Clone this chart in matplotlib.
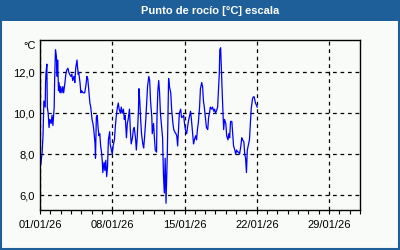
import numpy as np
import matplotlib
matplotlib.use('Agg')
import matplotlib.pyplot as plt
import matplotlib.dates as mdates
from matplotlib.patches import Rectangle
from matplotlib.ticker import FuncFormatter, FixedLocator
import datetime as dt

# hours since 01/01/26 00:00 and dew point in degC
hours = [2, 5, 7, 9, 12, 13, 14, 16, 17, 19, 21, 23, 26, 28, 30, 33, 34, 36, 38, 40,
         41, 43, 44, 47, 48, 51, 53, 55, 58, 60, 62, 65, 67, 69, 72, 74, 76, 79, 81, 83,
         86, 87, 89, 90, 93, 95, 97, 100, 102, 104, 107, 109, 111, 114, 116, 118, 121, 123, 125, 128,
         129, 131, 133, 135, 137, 139, 141, 143, 145, 146, 149, 151, 153, 155, 157, 159, 162, 163, 166, 168,
         170, 173, 175, 177, 180, 182, 184, 187, 189, 191, 194, 196, 198, 201, 203, 205, 208, 210, 212, 215,
         217, 219, 222, 224, 226, 229, 230, 232, 234, 236, 239, 241, 243, 246, 248, 250, 253, 255, 257, 260,
         261, 264, 266, 268, 271, 272, 274, 276, 278, 280, 283, 285, 287, 289, 291, 293, 296, 299, 301, 304,
         306, 309, 311, 313, 316, 318, 320, 322, 324, 327, 329, 331, 334, 336, 338, 341, 343, 345, 348, 350,
         352, 355, 357, 359, 362, 364, 366, 368, 371, 373, 376, 378, 380, 382, 385, 387, 390, 392, 394, 396,
         399, 401, 404, 406, 408, 410, 413, 415, 417, 418, 420, 421, 423, 424, 426, 427, 429, 432, 434, 437,
         439, 441, 443, 446, 448, 450, 453, 455, 457, 460, 462, 464, 467, 469, 471, 474, 476, 478, 480, 482,
         484, 487, 489, 491, 494, 496, 498, 501, 503, 505]
dew_point = [7.5, 8.1, 8.9, 10.6, 10.3, 11.5, 12.0, 12.4, 10.3, 10.0, 9.3, 9.7, 9.5, 9.9, 9.4, 10.3, 11.6, 13.1, 12.8, 11.8,
             12.6, 11.1, 11.5, 11.0, 11.3, 11.0, 11.3, 11.0, 11.5, 11.9, 12.1, 12.2, 12.0, 11.9, 11.8, 11.9, 11.6, 11.8, 11.5, 12.2,
             12.6, 12.3, 11.9, 12.0, 11.5, 11.0, 11.1, 11.0, 11.0, 11.0, 11.4, 11.8, 11.7, 11.0, 10.5, 10.3, 9.7, 9.5, 9.2, 8.5,
             7.8, 9.8, 9.9, 9.3, 8.9, 9.0, 8.4, 8.1, 7.6, 7.1, 7.6, 7.2, 7.7, 6.9, 7.4, 8.7, 9.1, 8.5, 8.2, 8.0,
             8.4, 8.7, 9.3, 9.8, 10.3, 10.5, 10.2, 10.0, 10.3, 10.0, 10.2, 9.7, 9.9, 8.8, 9.5, 9.7, 10.2, 9.2, 8.5, 8.8,
             9.2, 9.3, 8.8, 8.2, 8.8, 10.2, 11.2, 10.6, 9.7, 9.0, 8.5, 8.3, 8.8, 9.7, 10.5, 11.3, 11.8, 11.6, 10.6, 9.8,
             9.0, 9.5, 8.8, 8.2, 8.1, 9.8, 11.1, 11.6, 11.0, 10.0, 9.3, 8.8, 7.0, 6.1, 7.8, 5.6, 8.0, 11.7, 11.3, 11.0,
             10.2, 9.5, 9.2, 9.1, 9.0, 8.9, 8.4, 9.2, 10.0, 10.2, 9.8, 9.8, 9.9, 9.5, 9.2, 9.0, 9.3, 9.6, 9.9, 10.1,
             9.7, 9.0, 8.5, 8.7, 8.9, 8.7, 9.2, 9.5, 10.3, 11.2, 11.5, 11.3, 10.6, 10.3, 9.7, 9.3, 9.2, 9.8, 10.0, 10.3,
             10.2, 10.3, 10.1, 10.2, 10.0, 10.1, 10.3, 11.2, 12.0, 13.1, 13.2, 12.6, 11.5, 10.8, 9.8, 9.2, 9.7, 9.5, 8.9, 8.7,
             9.0, 8.8, 9.6, 9.6, 9.0, 8.4, 8.2, 8.0, 8.2, 8.1, 8.1, 8.0, 8.4, 8.8, 8.7, 8.6, 8.0, 7.8, 7.1, 8.2,
             8.4, 8.7, 9.5, 10.2, 10.7, 10.8, 10.8, 10.5, 10.4, 10.3]
y_ticks = [6, 8, 10, 12]
week_days = [1, 8, 15, 22, 29]
title = 'Punto de rocío [°C] escala'

start = dt.datetime(2026, 1, 1)
times = [start + dt.timedelta(hours=h) for h in hours]
week_ticks = mdates.date2num([dt.datetime(2026, 1, d) for d in week_days])

plt.rcParams['font.family'] = ['Liberation Sans', 'DejaVu Sans']
bg = '#f9fbf9'
bar_blue = '#1e5f99'

fig = plt.figure(figsize=(4, 2.5), dpi=100, facecolor=bg)
ax = fig.add_axes([0.1, 0.16, 0.8, 0.68])
ax.set_facecolor(bg)

ax.plot(times, dew_point, color='#0000ff', lw=0.9)

ax.set_xlim(start, dt.datetime(2026, 2, 1))
ax.set_ylim(5.27, 13.58)

ax.xaxis.set_major_locator(FixedLocator(week_ticks))
ax.xaxis.set_minor_locator(mdates.DayLocator())
ax.xaxis.set_major_formatter(mdates.DateFormatter('%d/%m/%y'))
ax.yaxis.set_major_locator(FixedLocator(y_ticks))
ax.yaxis.set_major_formatter(FuncFormatter(lambda v, p: '{:.1f}'.format(v).replace('.', ',')))

ax.tick_params(axis='x', which='both', direction='out', length=3, width=0.8, labelsize=8, pad=4)
ax.tick_params(axis='y', length=0, labelsize=8, pad=4)
ax.grid(True, which='major', color='black', linestyle=(0, (3, 3)), linewidth=0.9)

for s in ax.spines.values():
    s.set_linewidth(1)
    s.set_color('black')

fig.text(0.075, 0.816, '°C', fontsize=8, ha='center', va='center')

# title bar and frame
fig.patches.append(Rectangle((0, 0.918), 1, 0.082, transform=fig.transFigure,
                             facecolor=bar_blue, edgecolor='none', zorder=0))
fig.patches.append(Rectangle((0.002, 0.003), 0.995, 0.994, transform=fig.transFigure,
                             facecolor='none', edgecolor=bar_blue, linewidth=1.5, zorder=1))
fig.text(0.525, 0.958, title, color='white', fontsize=8, fontweight='bold',
         ha='center', va='center')

fig.savefig('out.png', dpi=100, facecolor=bg)
